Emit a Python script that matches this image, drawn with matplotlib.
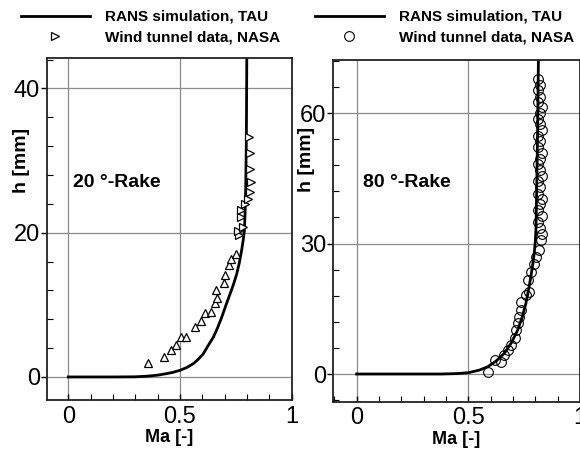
import numpy as np
import matplotlib
matplotlib.use("Agg")
import matplotlib.pyplot as plt
from matplotlib.ticker import MultipleLocator

plt.rcParams['font.family'] = ['Liberation Sans', 'DejaVu Sans']

# ---- 20 deg rake ----
rans20_ma = [0.0, 0.1, 0.2, 0.3, 0.35, 0.4, 0.44, 0.47, 0.5, 0.53,
             0.56, 0.58, 0.604, 0.625, 0.649, 0.668, 0.687, 0.705, 0.724, 0.74,
             0.754, 0.766, 0.776, 0.783, 0.788, 0.791, 0.794, 0.797, 0.799]
rans20_h = [0.0, 0.0, 0.0, 0.02, 0.1, 0.25, 0.46, 0.65, 0.92, 1.3,
            1.85, 2.4, 3.2, 4.3, 5.5, 6.8, 8.3, 9.9, 11.5, 12.9,
            14.3, 15.9, 17.6, 19.0, 20.3, 22.5, 26.0, 33.0, 44.5]
wt20_ma = [0.357, 0.427, 0.46, 0.484, 0.506, 0.528, 0.566, 0.595, 0.61, 0.64,
           0.655, 0.665, 0.66, 0.695, 0.70, 0.719, 0.73, 0.749, 0.766, 0.759,
           0.781, 0.774, 0.774, 0.789, 0.804, 0.814, 0.819, 0.814, 0.814, 0.811]
wt20_h = [1.9, 2.7, 3.7, 4.4, 5.5, 5.6, 6.9, 7.7, 8.8, 9.0,
          10.2, 10.9, 12.0, 13.0, 14.1, 15.5, 16.4, 17.1, 19.7, 20.3,
          20.8, 22.2, 23.1, 24.0, 24.7, 25.6, 27.0, 28.9, 31.0, 33.3]

# ---- 80 deg rake ----
rans80_ma = [0.0, 0.2, 0.38, 0.45, 0.5, 0.55, 0.588, 0.625, 0.662, 0.693,
             0.721, 0.742, 0.758, 0.77, 0.78, 0.788, 0.795, 0.8, 0.803, 0.806,
             0.81, 0.814]
rans80_h = [0.0, 0.0, 0.0, 0.1, 0.3, 0.9, 1.7, 3.0, 4.8, 7.2,
            10.1, 13.2, 16.3, 19.4, 22.4, 25.0, 27.7, 30.5, 33.5, 42.0,
            55.0, 73.0]
wt80_ma = [0.588, 0.618, 0.647, 0.662, 0.677, 0.692, 0.707, 0.714, 0.721, 0.729,
           0.736, 0.736, 0.758, 0.773, 0.765, 0.78, 0.795, 0.802, 0.817, 0.824,
           0.832, 0.82, 0.81, 0.83, 0.81, 0.82, 0.83, 0.81, 0.82, 0.81,
           0.83, 0.82, 0.81, 0.82, 0.83, 0.81, 0.82, 0.81, 0.83, 0.82,
           0.81, 0.82, 0.83, 0.81, 0.82, 0.81, 0.82, 0.81]
wt80_h = [0.5, 3.2, 2.8, 4.4, 5.5, 6.7, 8.2, 10.1, 11.7, 13.2,
          14.7, 16.6, 18.2, 18.9, 21.6, 23.5, 25.4, 27.0, 28.5, 30.8,
          32.3, 33.5, 35.0, 36.3, 37.6, 39.0, 40.3, 41.5, 43.0, 44.3,
          45.6, 47.0, 48.2, 49.5, 50.8, 52.2, 53.5, 54.8, 56.0, 57.4,
          58.7, 60.0, 61.3, 62.6, 63.8, 65.2, 66.4, 67.8]

fig = plt.figure(figsize=(5.8, 4.51), dpi=100)
ax1 = fig.add_axes([0.081, 0.113, 0.422, 0.758])
ax2 = fig.add_axes([0.574, 0.109, 0.426, 0.758])

grid_col = '#8a8a8a'
bold = dict(fontweight='bold')


def style_axes(ax, xlim, ylim, yticks, yminor):
    ax.set_xlim(*xlim)
    ax.set_ylim(*ylim)
    ax.set_xticks([0, 0.5, 1])
    ax.set_xticklabels(['0', '0.5', '1'])
    ax.set_yticks(yticks)
    ax.xaxis.set_minor_locator(MultipleLocator(0.1))
    ax.yaxis.set_minor_locator(MultipleLocator(yminor))
    ax.grid(True, which='major', color=grid_col, lw=0.9)
    ax.set_axisbelow(True)
    for s in ax.spines.values():
        s.set_linewidth(1.3)
        s.set_color('#222222')
    ax.tick_params(axis='both', which='major', labelsize=17, direction='in',
                   length=4, width=1, pad=4)
    ax.tick_params(axis='y', which='major', direction='out', length=4, pad=1)
    ax.tick_params(axis='both', which='minor', direction='in', length=4, width=0.8)
    ax.set_xlabel('Ma [-]', fontsize=13, labelpad=1, **bold)
    ax.set_ylabel('h [mm]', fontsize=14, **bold)


# left panel
ax1.plot(rans20_ma, rans20_h, color='black', lw=2.0, label='RANS simulation, TAU')
low = [i for i, h in enumerate(wt20_h) if h < 18]
high = [i for i, h in enumerate(wt20_h) if h >= 18]
ax1.plot([wt20_ma[i] for i in low], [wt20_h[i] for i in low], ls='none',
         marker='^', ms=6, mfc='white', mec='black', mew=0.9)
ax1.plot([wt20_ma[i] for i in high], [wt20_h[i] for i in high], ls='none',
         marker='>', ms=6, mfc='white', mec='black', mew=0.9,
         label='Wind tunnel data, NASA')
style_axes(ax1, (-0.095, 0.998), (-3.2, 44.2), [0, 20, 40], 4)
ax1.yaxis.set_label_coords(-0.07, 0.70)
ax1.text(0.02, 27, '20 °-Rake', fontsize=14, va='center', **bold)

# right panel
ax2.plot(rans80_ma, rans80_h, color='black', lw=2.0, label='RANS simulation, TAU')
ax2.plot(wt80_ma, wt80_h, ls='none', marker='o', ms=7, mfc='none',
         mec='black', mew=0.8, label='Wind tunnel data, NASA')
style_axes(ax2, (-0.106, 0.99), (-6.4, 72.2), [0, 30, 60], 6)
ax2.yaxis.set_label_coords(-0.073, 0.71)
ax2.text(0.027, 44, '80 °-Rake', fontsize=14, va='center', **bold)

for ax, x0 in ((ax1, 0.036), (ax2, 0.543)):
    ax.legend(loc='upper left', bbox_to_anchor=(x0, 0.978), bbox_transform=fig.transFigure,
              frameon=False, handlelength=4.5, handletextpad=1.0, labelspacing=0.45,
              borderpad=0.0, borderaxespad=0.0,
              prop={'weight': 'bold', 'size': 11})

fig.savefig('out.png', dpi=100)
